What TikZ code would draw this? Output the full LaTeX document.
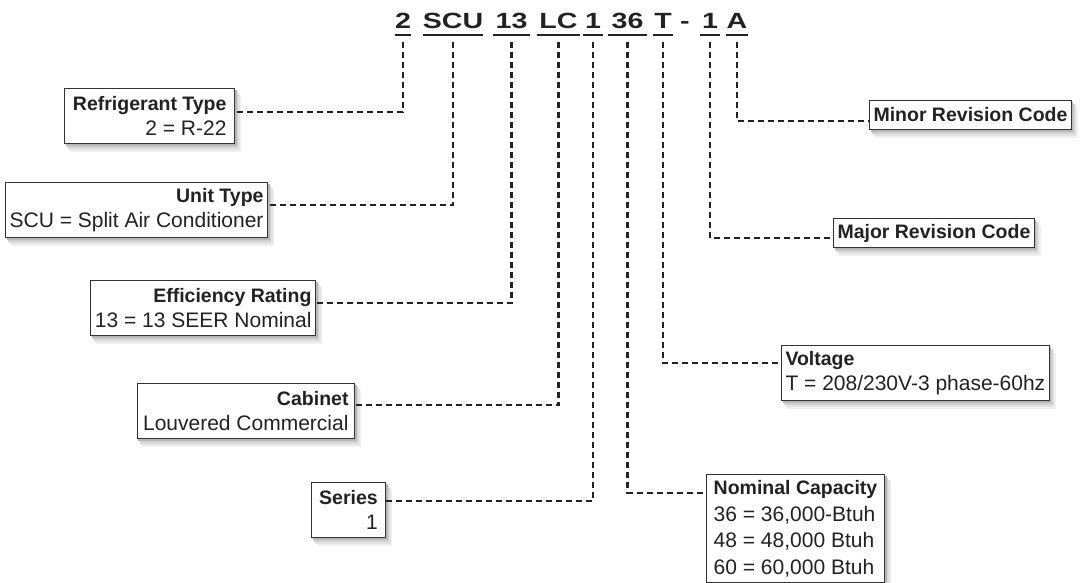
\documentclass[tikz,border=0pt]{standalone}
\usepackage{fontspec}
\setmainfont{Liberation Sans}
\newfontfamily\codefont{Liberation Sans}[FakeStretch=1.3]
\usepackage{xcolor}
\definecolor{ink}{RGB}{34,34,34}
\definecolor{frame}{RGB}{51,51,51}
\usetikzlibrary{calc}
\pgfdeclarelayer{bg}
\pgfsetlayers{bg,main}
\newcommand{\keyttl}[1]{{\fontsize{19.5}{25}\selectfont\bfseries #1}}

\begin{document}
\begin{tikzpicture}[x=1pt, y=-1pt,
  code/.style={font=\codefont\bfseries\fontsize{22}{26}\selectfont, inner xsep=0pt, inner ysep=0pt, anchor=base, text=ink},
  uline/.style={line width=2pt, ink},
  lead/.style={line width=2.2pt, ink, dash pattern=on 6pt off 4pt},
  keybox/.style={draw=frame, line width=1pt, fill=white, inner xsep=4pt, inner ysep=3pt,
    minimum height=55pt, font=\fontsize{21}{25}\selectfont, text=ink},
  lbox/.style={keybox, anchor=north east, align=right},
  rbox/.style={keybox, anchor=north west, align=left}]
  \useasboundingbox (0,0) rectangle (1082,582);
  % model number
  \node[code, minimum width=15pt] (c2) at (403,28) {2};
  \node[code, minimum width=60pt] (cSCU) at (453,28) {SCU};
  \node[code, minimum width=37pt] (c13) at (511.5,28) {13};
  \node[code, minimum width=43pt] (cLC) at (558.5,28) {LC};
  \node[code, minimum width=20pt] (c1) at (593,28) {1};
  \node[code, minimum width=39pt] (c36) at (627.5,28) {36};
  \node[code, minimum width=20pt] (cT) at (663,28) {T};
  \node[code] (hy) at (685,28) {-};
  \node[code, minimum width=20pt] (cR1) at (710,28) {1};
  \node[code, minimum width=20pt] (cA) at (737,28) {A};
  \foreach \n in {c2,cSCU,c13,cLC,c1,c36,cT,cR1,cA}
    \draw[uline] ([yshift=-7pt]\n.base west) -- ([yshift=-7pt]\n.base east);
  % left boxes
  \node[lbox, inner xsep=8pt] (rt) at (235,88) {\keyttl{Refrigerant Type}\\2 = R-22};
  \node[lbox] (ut) at (268,182) {\keyttl{Unit Type}\\SCU = Split Air Conditioner};
  \node[lbox] (er) at (316,280) {\keyttl{Efficiency Rating}\\13 = 13 SEER Nominal};
  \node[lbox, inner xsep=6pt] (cb) at (355,383) {\keyttl{Cabinet}\\Louvered Commercial};
  \node[lbox, minimum width=74pt] (sr) at (386,482) {\keyttl{Series}\\1};
  % right boxes
  \node[rbox, minimum height=29pt] (mn) at (869,100) {\keyttl{Minor Revision Code}};
  \node[rbox, minimum height=29pt] (mj) at (833,218) {\keyttl{Major Revision Code}};
  \node[rbox] (vt) at (781,345) {\keyttl{Voltage}\\T = 208/230V-3 phase-60hz};
  \node[rbox, inner ysep=6pt, minimum height=0pt, minimum width=178pt,
    font=\fontsize{21}{26.5}\selectfont] (nc) at (706,474)
    {\keyttl{Nominal Capacity}\\36 = 36,000-Btuh\\48 = 48,000 Btuh\\60 = 60,000 Btuh};
  % shadows under the boxes
  \begin{pgfonlayer}{bg}
    \foreach \b in {rt,ut,er,cb,sr,mn,mj,vt,nc}
      \foreach \s/\g in {6/6, 4.5/11, 3/18, 1.5/28}
        \fill[black!\g] ($(\b.north west)+(\s,1.35*\s)$) rectangle ($(\b.south east)+(\s,1.35*\s)$);
  \end{pgfonlayer}
  % leaders
  \coordinate (rt-in) at ($(rt.north east)+(0,24)$);
  \coordinate (ut-in) at ($(ut.north east)+(0,23)$);
  \coordinate (er-in) at ($(er.north east)+(0,23)$);
  \coordinate (cb-in) at ($(cb.north east)+(0,22)$);
  \coordinate (sr-in) at ($(sr.north east)+(0,19)$);
  \coordinate (mn-in) at ($(mn.north west)+(0,21)$);
  \coordinate (mj-in) at ($(mj.north west)+(0,20)$);
  \coordinate (vt-in) at ($(vt.north west)+(0,18)$);
  \coordinate (nc-in) at ($(nc.north west)+(0,19)$);
  \draw[lead] ([yshift=-14pt]c2.base) |- (rt-in);
  \draw[lead] ([yshift=-14pt]cSCU.base) |- (ut-in);
  \draw[lead] ([yshift=-14pt]c13.base) |- (er-in);
  \draw[lead] ([yshift=-14pt]cLC.base) |- (cb-in);
  \draw[lead] ([yshift=-14pt]c1.base) |- (sr-in);
  \draw[lead] ([yshift=-14pt]c36.base) |- (nc-in);
  \draw[lead] ([yshift=-14pt]cT.base) |- (vt-in);
  \draw[lead] ([yshift=-14pt]cR1.base) |- (mj-in);
  \draw[lead] ([yshift=-14pt]cA.base) |- (mn-in);
\end{tikzpicture}
\end{document}
